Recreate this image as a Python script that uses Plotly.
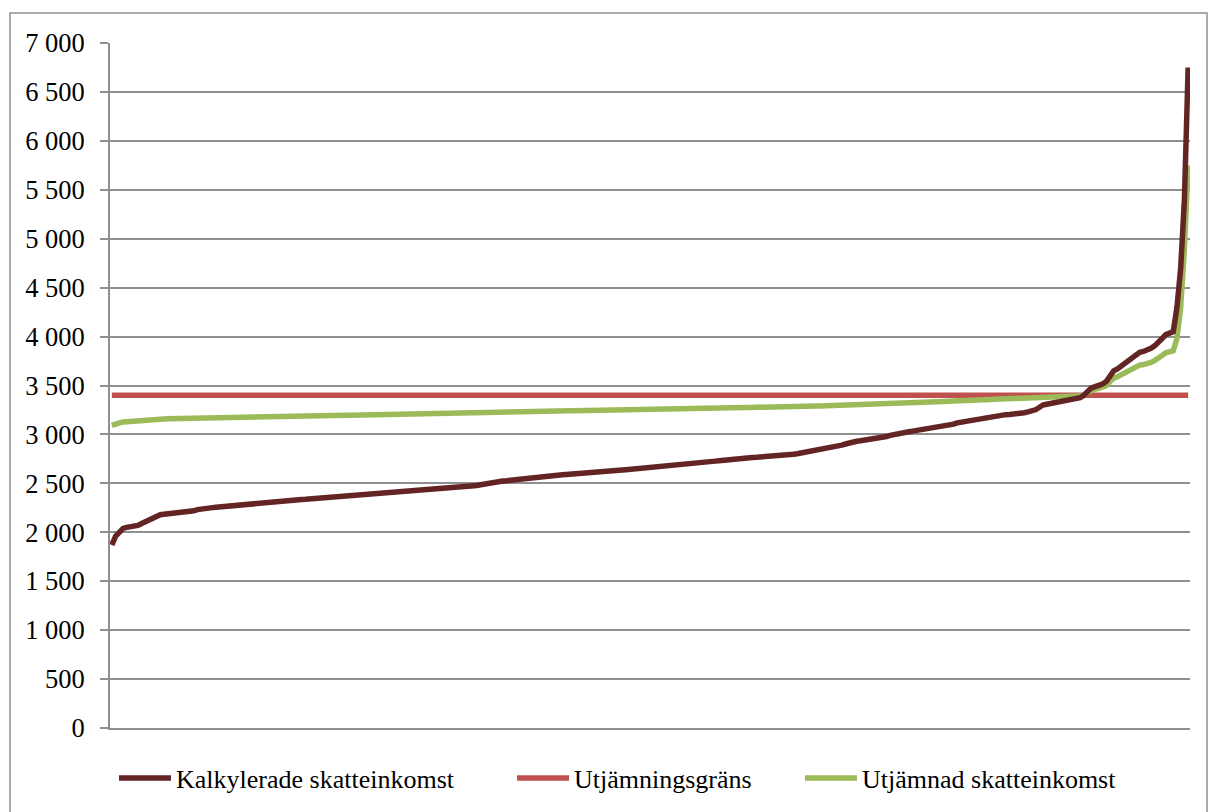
import plotly.graph_objects as go

# Kommuner sorterade efter kalkylerad skatteinkomst (kr/inv)
kalkylerade = [
    1870, 1960, 2000, 2040, 2050, 2055, 2060, 2070, 2090, 2110,
    2130, 2155, 2170, 2180, 2185, 2188, 2192, 2195, 2198, 2200,
    2203, 2210, 2220, 2232, 2240, 2245, 2248, 2252, 2256, 2260,
    2263, 2266, 2270, 2274, 2278, 2281, 2284, 2287, 2290, 2293,
    2297, 2300, 2303, 2306, 2310, 2314, 2318, 2321, 2324, 2328,
    2332, 2335, 2337, 2340, 2342, 2344, 2346, 2348, 2350, 2353,
    2356, 2358, 2360, 2362, 2364, 2366, 2368, 2370, 2373, 2378,
    2385, 2390, 2393, 2396, 2399, 2402, 2405, 2408, 2411, 2414,
    2417, 2420, 2422, 2425, 2428, 2430, 2433, 2436, 2438, 2441,
    2443, 2446, 2449, 2451, 2454, 2457, 2462, 2470, 2478, 2486,
    2494, 2500, 2507, 2514, 2520, 2524, 2527, 2530, 2534, 2540,
    2546, 2551, 2556, 2560, 2564, 2567, 2570, 2573, 2576, 2579,
    2583, 2587, 2591, 2595, 2598, 2601, 2604, 2607, 2610, 2613,
    2616, 2619, 2622, 2625, 2628, 2631, 2634, 2637, 2640, 2643,
    2646, 2650, 2654, 2658, 2662, 2666, 2670, 2673, 2676, 2678,
    2681, 2684, 2687, 2690, 2694, 2698, 2702, 2705, 2708, 2712,
    2717, 2722, 2727, 2732, 2737, 2742, 2747, 2752, 2755, 2758,
    2760, 2762, 2764, 2766, 2768, 2771, 2774, 2777, 2780, 2783,
    2786, 2789, 2793, 2797, 2803, 2810, 2818, 2825, 2830, 2835,
    2840, 2845, 2850, 2860, 2870, 2880, 2890, 2902, 2914, 2924,
    2930, 2935, 2940, 2945, 2950, 2956, 2962, 2968, 2978, 2990,
    3000, 3008, 3016, 3022, 3028, 3034, 3040, 3046, 3052, 3058,
    3062, 3066, 3070, 3075, 3082, 3092, 3105, 3118, 3125, 3130,
    3136, 3142, 3150, 3158, 3166, 3175, 3184, 3192, 3198, 3200,
    3202, 3204, 3206, 3210, 3215, 3222, 3230, 3240, 3252, 3275,
    3300, 3308, 3314, 3320, 3326, 3332, 3338, 3345, 3352, 3362,
    3375, 3400, 3440, 3476, 3488, 3500, 3515, 3540, 3600, 3650,
    3670, 3700, 3725, 3755, 3790, 3825, 3840, 3848, 3860, 3880,
    3905, 3935, 3980, 4020, 4040, 4050, 4300, 4700, 5400, 6750,
]

utjamnad = [
    3092, 3110, 3118, 3126, 3130, 3132, 3133, 3135, 3139, 3143,
    3147, 3152, 3155, 3157, 3158, 3159, 3160, 3160, 3161, 3162,
    3163, 3164, 3166, 3168, 3170, 3171, 3172, 3173, 3173, 3174,
    3175, 3175, 3176, 3177, 3178, 3178, 3179, 3180, 3180, 3181,
    3182, 3182, 3183, 3184, 3185, 3185, 3186, 3187, 3188, 3188,
    3189, 3190, 3190, 3191, 3191, 3192, 3192, 3193, 3193, 3194,
    3194, 3195, 3195, 3196, 3196, 3197, 3197, 3198, 3198, 3199,
    3201, 3202, 3202, 3203, 3204, 3204, 3205, 3206, 3206, 3207,
    3208, 3208, 3209, 3209, 3210, 3211, 3211, 3212, 3212, 3213,
    3213, 3214, 3215, 3215, 3216, 3216, 3217, 3219, 3220, 3222,
    3223, 3224, 3226, 3227, 3228, 3229, 3229, 3230, 3231, 3232,
    3233, 3234, 3235, 3236, 3237, 3237, 3238, 3238, 3239, 3240,
    3240, 3241, 3242, 3243, 3243, 3244, 3245, 3245, 3246, 3246,
    3247, 3248, 3248, 3249, 3249, 3250, 3251, 3251, 3252, 3252,
    3253, 3254, 3254, 3255, 3256, 3257, 3258, 3258, 3259, 3259,
    3260, 3261, 3261, 3262, 3263, 3263, 3264, 3265, 3265, 3266,
    3267, 3268, 3269, 3270, 3271, 3272, 3273, 3274, 3275, 3275,
    3276, 3276, 3276, 3277, 3277, 3278, 3278, 3279, 3280, 3280,
    3281, 3281, 3282, 3283, 3284, 3285, 3287, 3288, 3289, 3290,
    3291, 3292, 3293, 3295, 3297, 3299, 3301, 3303, 3305, 3307,
    3308, 3309, 3310, 3311, 3312, 3313, 3314, 3315, 3317, 3320,
    3322, 3323, 3325, 3326, 3327, 3328, 3329, 3330, 3332, 3333,
    3334, 3334, 3335, 3336, 3338, 3340, 3342, 3345, 3346, 3347,
    3348, 3349, 3351, 3352, 3354, 3356, 3358, 3359, 3360, 3361,
    3361, 3362, 3362, 3363, 3364, 3366, 3367, 3369, 3371, 3375,
    3380, 3382, 3383, 3384, 3385, 3387, 3388, 3389, 3391, 3393,
    3395, 3400, 3428, 3453, 3462, 3470, 3480, 3498, 3540, 3575,
    3589, 3610, 3628, 3649, 3673, 3698, 3708, 3714, 3722, 3736,
    3754, 3775, 3806, 3834, 3848, 3855, 3980, 4300, 4900, 5750,
]

utjamningsgrans_varde = 3400
kommuner = list(range(1, len(kalkylerade) + 1))
utjamningsgrans = [utjamningsgrans_varde for _ in kommuner]

tick_values = [0, 500, 1000, 1500, 2000, 2500, 3000, 3500, 4000, 4500, 5000, 5500, 6000, 6500, 7000]
tick_labels = ["0", "500", "1 000", "1 500", "2 000", "2 500", "3 000", "3 500", "4 000",
               "4 500", "5 000", "5 500", "6 000", "6 500", "7 000"]

BROWN = "#632523"
RED = "#C0504D"
GREEN = "#9BBB59"
GRID = "#8f8f8f"
FONT = "Liberation Serif, Tinos, Times New Roman, DejaVu Serif, serif"

fig = go.Figure()
fig.add_trace(go.Scatter(x=kommuner, y=utjamningsgrans, mode="lines", name="Utjämningsgräns",
                         line=dict(color=RED, width=5.5), legend="legend2"))
fig.add_trace(go.Scatter(x=kommuner, y=utjamnad, mode="lines", name="Utjämnad skatteinkomst",
                         line=dict(color=GREEN, width=5.5), legend="legend3"))
fig.add_trace(go.Scatter(x=kommuner, y=kalkylerade, mode="lines", name="Kalkylerade skatteinkomst",
                         line=dict(color=BROWN, width=5.5), legend="legend"))

W, H = 1209, 812
L, R, T, B = 110, 19, 43, 83
pw, ph = W - L - R, H - T - B

def px_x(px):
    return (px - L) / pw

def px_y(py):
    return (H - B - py) / ph

legend_common = dict(orientation="h", yanchor="middle", xanchor="left", y=px_y(778),
                     font=dict(family=FONT, size=26, color="#000000"),
                     bgcolor="rgba(0,0,0,0)", itemwidth=52, tracegroupgap=0)

fig.update_layout(
    width=W, height=H,
    margin=dict(l=L, r=R, t=T, b=B),
    paper_bgcolor="white", plot_bgcolor="white",
    font=dict(family=FONT),
    showlegend=True,
    legend=dict(x=px_x(114), **legend_common),
    legend2=dict(x=px_x(512), **legend_common),
    legend3=dict(x=px_x(800), **legend_common),
    xaxis=dict(range=[0.5, len(kommuner) + 0.5], showticklabels=False, showgrid=False,
               zeroline=False, showline=True, linecolor=GRID, linewidth=1.8, ticks=""),
    yaxis=dict(range=[0, 7000], tickvals=tick_values, ticktext=tick_labels,
               showgrid=True, gridcolor=GRID, gridwidth=1.8, zeroline=False,
               showline=True, linecolor=GRID, linewidth=1.8,
               ticks="outside", ticklen=8, tickcolor=GRID, tickwidth=1.8,
               ticklabelstandoff=10,
               tickfont=dict(family=FONT, size=26.5, color="#000000")),
    shapes=[dict(type="rect", xref="paper", yref="paper",
                 x0=px_x(10), x1=px_x(1207), y0=px_y(830), y1=px_y(13),
                 line=dict(color=GRID, width=1.5), fillcolor="rgba(0,0,0,0)", layer="below")],
)

fig.write_html("out.html", config={"displayModeBar": False},
               post_script="document.body.style.margin='0';document.body.style.padding='0';")
